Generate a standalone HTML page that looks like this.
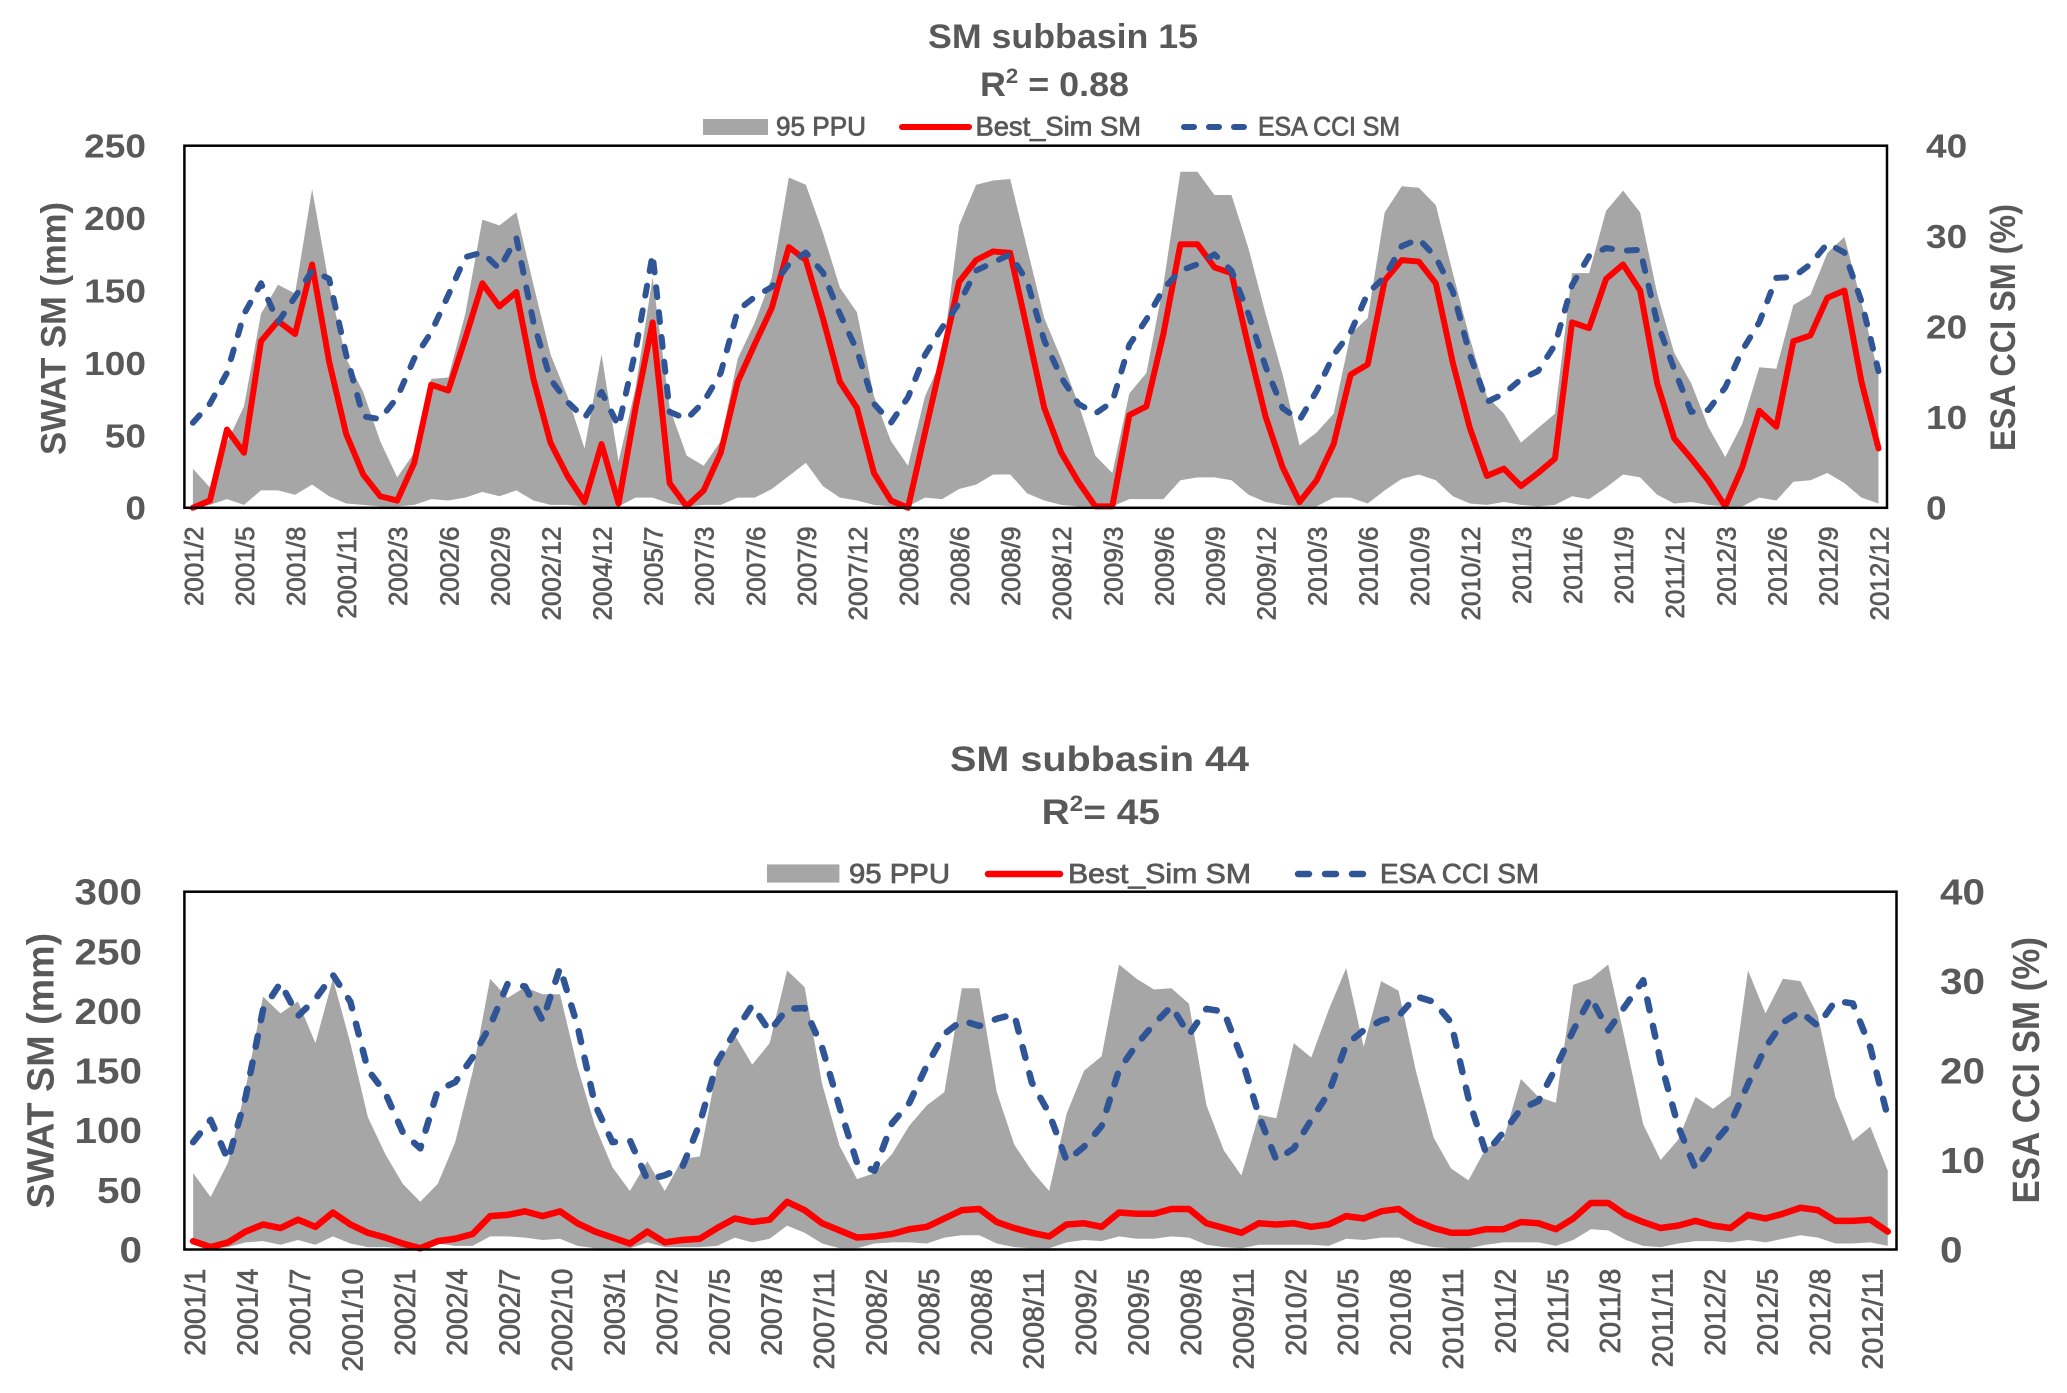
<!DOCTYPE html>
<html lang="en">
<head>
<meta charset="utf-8">
<title>SM subbasin charts</title>
<style>
html,body{margin:0;padding:0;background:#fff;}
svg{display:block;}
text{font-family:"Liberation Sans",sans-serif;fill:#595959;}
.b{font-weight:bold;}
.leg{stroke:#595959;stroke-width:.8px;}
.xl{stroke:#595959;stroke-width:.7px;}
</style>
</head>
<body>
<svg id="fig" xmlns="http://www.w3.org/2000/svg" width="2067" height="1393" viewBox="0 0 2067 1393">
  <rect x="0" y="0" width="2067" height="1393" fill="#fff"/>

  <g id="chart1">
    <text class="b" x="928" y="48" font-size="34" textLength="270" lengthAdjust="spacingAndGlyphs">SM subbasin 15</text>
    <text class="b" x="980" y="96" font-size="34" textLength="149" lengthAdjust="spacingAndGlyphs">R<tspan font-size="21" dy="-13">2</tspan><tspan dy="13"> = 0.88</tspan></text>
    <g>
      <rect x="703" y="119" width="65" height="16" fill="#A6A6A6"/>
      <text class="leg" x="776" y="135.5" font-size="27" textLength="90" lengthAdjust="spacingAndGlyphs">95 PPU</text>
      <line x1="902" y1="127" x2="969" y2="127" stroke="#FF0000" stroke-width="6" stroke-linecap="round"/>
      <text class="leg" x="975.5" y="135.5" font-size="27" textLength="165.5" lengthAdjust="spacingAndGlyphs">Best_Sim SM</text>
      <line x1="1184" y1="127" x2="1248" y2="127" stroke="#2F5597" stroke-width="6" stroke-linecap="round" stroke-dasharray="10 15"/>
      <text class="leg" x="1258" y="135.5" font-size="27" textLength="142" lengthAdjust="spacingAndGlyphs">ESA CCI SM</text>
    </g>
    <g id="marks1"></g>
    <rect x="184.4" y="145.7" width="1702.6" height="362.1" fill="none" stroke="#000" stroke-width="2.5"/>
    <g id="axes1"></g>
    <text class="b" transform="translate(65.5,455) rotate(-90)" x="0" y="0" font-size="35" textLength="253" lengthAdjust="spacingAndGlyphs">SWAT SM (mm)</text>
    <text class="b" transform="translate(2015,451) rotate(-90)" x="0" y="0" font-size="35" textLength="247" lengthAdjust="spacingAndGlyphs">ESA CCI SM (%)</text>
  </g>

  <g id="chart2">
    <text class="b" x="950" y="771" font-size="35" textLength="299" lengthAdjust="spacingAndGlyphs">SM subbasin 44</text>
    <text class="b" x="1041.6" y="824" font-size="35" textLength="118.4" lengthAdjust="spacingAndGlyphs">R<tspan font-size="22" dy="-13">2</tspan><tspan dy="13">= 45</tspan></text>
    <g>
      <rect x="767" y="864.4" width="72.4" height="18.2" fill="#A6A6A6"/>
      <text class="leg" x="849" y="883" font-size="28" textLength="101" lengthAdjust="spacingAndGlyphs">95 PPU</text>
      <line x1="988" y1="874" x2="1060" y2="874" stroke="#FF0000" stroke-width="6.5" stroke-linecap="round"/>
      <text class="leg" x="1068" y="883" font-size="28" textLength="183" lengthAdjust="spacingAndGlyphs">Best_Sim SM</text>
      <line x1="1298" y1="874" x2="1370" y2="874" stroke="#2F5597" stroke-width="6.5" stroke-linecap="round" stroke-dasharray="11 16"/>
      <text class="leg" x="1380" y="883" font-size="28" textLength="159" lengthAdjust="spacingAndGlyphs">ESA CCI SM</text>
    </g>
    <g id="marks2"></g>
    <rect x="184.4" y="891.7" width="1712.1" height="357.8" fill="none" stroke="#000" stroke-width="2.5"/>
    <g id="axes2"></g>
    <text class="b" transform="translate(53.5,1208.5) rotate(-90)" x="0" y="0" font-size="38" textLength="275.7" lengthAdjust="spacingAndGlyphs">SWAT SM (mm)</text>
    <text class="b" transform="translate(2039,1203.5) rotate(-90)" x="0" y="0" font-size="38" textLength="266.5" lengthAdjust="spacingAndGlyphs">ESA CCI SM (%)</text>
  </g>
</svg>
<script>
// ---- Subbasin 15 data ----
const ticks15 = ["2001/2","2001/5","2001/8","2001/11","2002/3","2002/6","2002/9","2002/12","2004/12","2005/7","2007/3","2007/6","2007/9","2007/12","2008/3","2008/6","2008/9","2008/12","2009/3","2009/6","2009/9","2009/12","2010/3","2010/6","2010/9","2010/12","2011/3","2011/6","2011/9","2011/12","2012/3","2012/6","2012/9","2012/12"];
const ppuUpper15 = [27,14,45,70,134,154,148,220,154,103,80,46,21,38,89,90,134,199,195,204,154,106,77,41,106,32,83,159,69,36,29,46,103,128,159,228,223,190,152,135,77,46,29,77,103,195,223,226,227,179,131,103,72,36,24,79,93,154,232,232,216,216,179,134,92,43,52,65,120,131,204,222,221,209,162,117,77,65,45,55,65,162,162,205,219,204,148,107,86,56,35,58,97,96,140,147,176,187,142,92];
const ppuLower15 = [1,2,6,2,12,12,9,16,8,3,2,1,1,2,6,5,7,11,8,12,5,2,2,1,1,1,7,7,3,1,2,2,7,7,13,22,31,15,7,5,2,1,1,7,6,13,16,23,23,10,5,2,1,1,1,6,6,6,19,21,21,19,9,4,2,1,1,7,7,3,12,20,23,19,8,3,2,4,2,1,2,8,6,14,23,21,9,3,4,2,1,1,7,5,18,19,24,17,7,3];
const bestSim15 = [0,5,54,38,115,129,120,168,101,51,23,8,5,31,85,81,117,155,139,149,89,45,22,4,44,3,69,128,17,1,12,38,87,113,138,180,171,131,87,69,24,5,0,52,103,156,171,177,176,123,69,38,18,1,1,64,70,120,182,182,166,162,111,63,28,4,19,44,92,99,157,171,170,155,100,55,22,27,15,24,34,128,124,158,168,150,86,48,34,19,1,28,67,56,115,119,145,150,87,41];
const esaCci15 = [9.4,11.5,14.9,21.4,24.8,20.5,23.3,26.2,25.3,16.9,10.1,9.8,12.2,16.5,19.4,23.5,27.7,28.2,26.4,29.8,20.5,14.2,11.7,9.9,12.8,9,17.4,28,10.6,9.8,11.7,14.9,21.8,23.3,24.4,26.9,28.2,26,21.4,17.4,11.5,9.4,12.2,16.9,19.9,22.6,26.2,27.1,28,25,18.5,14.4,11.5,10.4,11.7,18,20.8,24.2,26.2,26.9,28,26.2,21.4,15.6,11,9.7,12.9,16.9,19.4,23.7,25.5,28.9,29.7,27.7,23.9,16.9,11.7,12.6,14.2,15.1,18,24.6,27.8,28.7,28.4,28.5,20.5,15.3,10.6,10.8,13.3,17.4,20.5,25.4,25.5,26.9,29.2,28.2,22.8,15.1];
const leftTicks15 = [0,50,100,150,200,250];
const rightTicks15 = [0,10,20,30,40];

// ---- Subbasin 44 data ----
const ticks44 = ["2001/1","2001/4","2001/7","2001/10","2002/1","2002/4","2002/7","2002/10","2003/1","2007/2","2007/5","2007/8","2007/11","2008/2","2008/5","2008/8","2008/11","2009/2","2009/5","2009/8","2009/11","2010/2","2010/5","2010/8","2010/11","2011/2","2011/5","2011/8","2011/11","2012/2","2012/5","2012/8","2012/11"];
const ppuUpper44 = [64,44,73,135,212,198,208,173,227,173,111,80,55,40,55,90,149,227,211,220,214,214,153,104,69,49,74,49,76,78,153,180,155,173,234,220,139,87,59,64,80,104,121,132,219,219,132,88,66,49,114,150,162,239,227,218,219,206,121,83,62,113,110,173,161,201,236,170,225,217,149,94,68,58,85,92,143,128,123,222,227,239,173,105,75,92,128,118,129,234,198,227,225,196,128,91,103,66];
const ppuLower44 = [4,1,2,6,7,4,8,4,11,5,2,2,1,1,5,3,3,11,11,10,8,9,3,1,1,1,6,2,2,2,3,10,6,9,20,14,5,1,1,5,6,6,5,10,12,12,5,2,1,1,6,8,7,11,9,9,11,10,4,2,1,4,4,4,4,3,9,8,10,10,5,2,1,1,4,6,6,6,3,8,17,16,8,3,2,5,7,7,6,8,6,9,12,10,5,5,6,3];
const bestSim44 = [7,2,6,15,21,18,25,19,31,21,14,10,5,1,7,9,13,28,29,32,28,32,22,15,10,5,15,6,8,9,18,26,23,25,40,33,22,16,10,11,13,17,19,26,33,34,23,18,14,11,21,22,19,31,30,30,34,34,22,18,14,22,21,22,19,21,28,26,32,34,24,18,14,14,17,17,23,22,17,26,39,39,29,23,18,20,24,20,18,29,26,30,35,33,24,24,25,15];
const esaCci44 = [12,14.5,10,17,26.8,29.8,26.1,28,30.7,27.7,20.1,17.5,13.1,11.3,17.8,18.7,21.5,25,29.7,29.4,25.6,31.5,25,16.2,12,12.2,7.8,8.3,9.2,14.1,21,24.3,27.3,24.4,26.9,27,22.6,15.9,9.7,8.8,14.1,16.4,20.6,24.1,25.6,25,25.8,26.3,18.7,15.2,9.9,11.5,13.8,20.1,22.9,25.2,27.2,24,26.9,26.6,21.5,15,10,11.3,14.5,17.5,22.9,24.5,25.6,26.1,28.3,27.7,25.4,16.9,10.8,13.1,15.7,16.6,20.3,24.5,28.2,24.5,27.3,30.1,21,13.8,9,11.8,14.1,18.5,22.6,25.4,26.6,25,27.8,27.5,22.6,14.8];
const leftTicks44 = [0,50,100,150,200,250,300];
const rightTicks44 = [0,10,20,30,40];

const SVG_NS = 'http://www.w3.org/2000/svg';
const TICK_STEP = 3;

function makeScaleX(left, right, count) {
  const band = (right - left) / count;
  return function (i) { return left + band * (i + 0.5); };
}
function makeScaleY(bottom, top, max) {
  return function (v) { return bottom - (v / max) * (bottom - top); };
}
function pathFrom(values, sx, sy) {
  return values.map(function (v, i) { return sx(i).toFixed(2) + ',' + sy(v).toFixed(2); }).join(' ');
}

function drawChart(marks, axes, cfg) {
  const sx = makeScaleX(cfg.left, cfg.right, cfg.upper.length);
  const sl = makeScaleY(cfg.bottom, cfg.top, cfg.leftTicks[cfg.leftTicks.length - 1]);
  const sr = makeScaleY(cfg.bottom, cfg.top, cfg.rightTicks[cfg.rightTicks.length - 1]);

  const band = document.createElementNS(SVG_NS, 'polygon');
  const upperPts = cfg.upper.map(function (v, i) { return sx(i).toFixed(2) + ',' + sl(v).toFixed(2); });
  const lowerPts = cfg.lower.map(function (v, i) { return sx(i).toFixed(2) + ',' + sl(v).toFixed(2); }).reverse();
  band.setAttribute('points', upperPts.concat(lowerPts).join(' '));
  band.setAttribute('fill', '#A6A6A6');
  
  
  marks.appendChild(band);

  const red = document.createElementNS(SVG_NS, 'polyline');
  red.setAttribute('points', pathFrom(cfg.best, sx, sl));
  red.setAttribute('fill', 'none');
  red.setAttribute('stroke', '#FF0000');
  red.setAttribute('stroke-width', cfg.redWidth);
  red.setAttribute('stroke-linejoin', 'round');
  red.setAttribute('stroke-linecap', 'round');
  
  
  marks.appendChild(red);

  const blue = document.createElementNS(SVG_NS, 'polyline');
  blue.setAttribute('points', pathFrom(cfg.esa, sx, sr));
  blue.setAttribute('fill', 'none');
  blue.setAttribute('stroke', '#2F5597');
  blue.setAttribute('stroke-width', cfg.blueWidth);
  blue.setAttribute('stroke-linejoin', 'round');
  blue.setAttribute('stroke-linecap', 'round');
  blue.setAttribute('stroke-dasharray', cfg.dash);
  
  
  marks.appendChild(blue);

  cfg.ticks.forEach(function (label, k) {
    const t = document.createElementNS(SVG_NS, 'text');
    const px = sx(k * TICK_STEP) + cfg.xLabelShift;
    t.setAttribute('transform', 'translate(' + px.toFixed(2) + ',' + cfg.xLabelEnd + ') rotate(-90)');
    t.setAttribute('text-anchor', 'end');
    t.setAttribute('class', 'xl');
    t.setAttribute('font-size', cfg.xFont);
    t.textContent = label;
    
    
    axes.appendChild(t);
  });

  cfg.leftTicks.forEach(function (v) {
    const t = document.createElementNS(SVG_NS, 'text');
    const label = String(v);
    t.setAttribute('x', cfg.leftLabelX - cfg.digitWidth * label.length);
    t.setAttribute('y', (sl(v) + cfg.yFont * 0.36).toFixed(2));
    t.setAttribute('class', 'b');
    t.setAttribute('font-size', cfg.yFont);
    t.setAttribute('textLength', cfg.digitWidth * label.length);
    t.setAttribute('lengthAdjust', 'spacingAndGlyphs');
    t.textContent = label;
    
    
    axes.appendChild(t);
  });

  cfg.rightTicks.forEach(function (v) {
    const t = document.createElementNS(SVG_NS, 'text');
    const label = String(v);
    t.setAttribute('x', cfg.rightLabelX);
    t.setAttribute('y', (sr(v) + cfg.yFont * 0.36).toFixed(2));
    t.setAttribute('class', 'b');
    t.setAttribute('font-size', cfg.yFont);
    t.setAttribute('textLength', cfg.digitWidth * label.length);
    t.setAttribute('lengthAdjust', 'spacingAndGlyphs');
    t.textContent = label;
    
    
    axes.appendChild(t);
  });
}

drawChart(document.getElementById('marks1'), document.getElementById('axes1'), {
  upper: ppuUpper15, lower: ppuLower15, best: bestSim15, esa: esaCci15,
  ticks: ticks15, leftTicks: leftTicks15, rightTicks: rightTicks15,
  left: 184.4, right: 1887, top: 145.7, bottom: 507.8,
  redWidth: 6, blueWidth: 6, dash: '10 15',
  xLabelEnd: 526.5, xLabelShift: 10, xFont: 26,
  leftLabelX: 146, rightLabelX: 1926, yFont: 33, digitWidth: 20.6
});
drawChart(document.getElementById('marks2'), document.getElementById('axes2'), {
  upper: ppuUpper44, lower: ppuLower44, best: bestSim44, esa: esaCci44,
  ticks: ticks44, leftTicks: leftTicks44, rightTicks: rightTicks44,
  left: 184.4, right: 1896.5, top: 891.7, bottom: 1249.5,
  redWidth: 6.5, blueWidth: 6.5, dash: '11 16',
  xLabelEnd: 1268.6, xLabelShift: 12, xFont: 28.5,
  leftLabelX: 142, rightLabelX: 1940, yFont: 36, digitWidth: 22.5
});
</script>
</body>
</html>
